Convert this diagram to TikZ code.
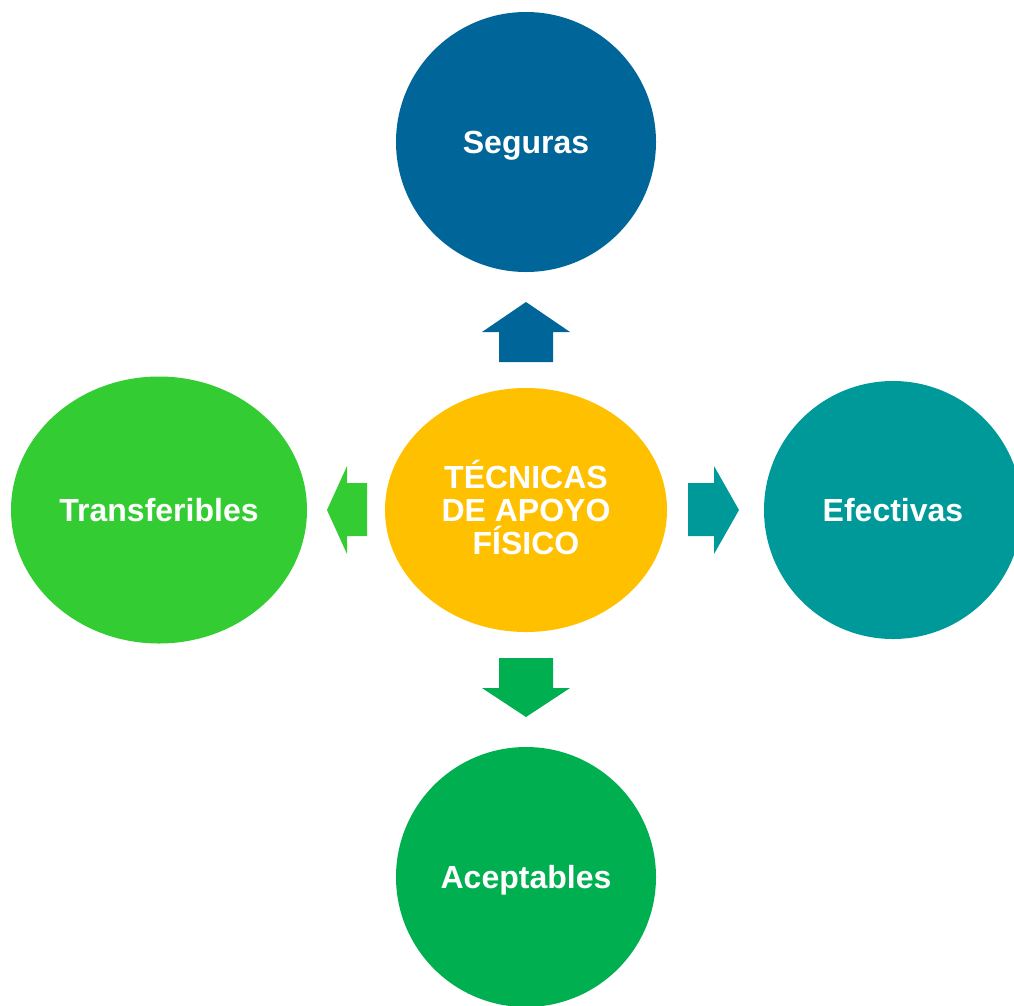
\documentclass[tikz,border=0pt]{standalone}
\usepackage{fontspec}
\setmainfont{Liberation Sans}
\usepackage{xcolor}
\usepackage{tikz}
\usetikzlibrary{shapes.geometric}

\definecolor{azul}{HTML}{006699}
\definecolor{amarillo}{HTML}{FFC000}
\definecolor{turquesa}{HTML}{009999}
\definecolor{verdeclaro}{HTML}{33CC33}
\definecolor{verde}{HTML}{00B050}

\tikzset{
  burbuja/.style={ellipse, inner sep=0pt, text=white,
    font=\fontsize{32}{33}\selectfont\bfseries, align=center},
  palabra/.style={burbuja, text depth=0pt}
}

\begin{document}
\begin{tikzpicture}[x=1pt,y=-1pt]
                \useasboundingbox (0,0) rectangle (1014,1005);
                \clip (0,0) rectangle (1014,1005);
                % central idea and its four qualities
                \node[burbuja, fill=amarillo, minimum width=282pt, minimum height=244pt]
                    (tecnicas) at (526,510) {};
                \node[burbuja] (titulo) at (526,507) {TÉCNICAS\\DE APOYO\\FÍSICO};
                \node[palabra, fill=azul, minimum width=260pt, minimum height=260pt]
                    (seguras) at (526,142) {Seguras};
                \node[palabra, fill=turquesa, minimum width=258pt, minimum height=258pt]
                    (efectivas) at (893,510) {Efectivas};
                \node[palabra, fill=verde, minimum width=260pt, minimum height=260pt]
                    (aceptables) at (526,877) {Aceptables};
                \node[palabra, fill=verdeclaro, minimum width=296pt, minimum height=267pt]
                    (transferibles) at (159,510) {Transferibles};
                % block arrows
                \fill[azul] (499,362) -- (499,332) -- (482,332) -- (526,302) --
                    (570,332) -- (553,332) -- (553,362) -- cycle;
                \fill[verde] (499,658) -- (499,688) -- (482,688) -- (526,717) --
                    (570,688) -- (553,688) -- (553,658) -- cycle;
                \fill[turquesa] (688,483) -- (714,483) -- (714,466) -- (739,510) --
                    (714,554) -- (714,536) -- (688,536) -- cycle;
                \fill[verdeclaro] (367,483) -- (347,483) -- (347,466) -- (327,510) --
                    (347,554) -- (347,536) -- (367,536) -- cycle;
            \end{tikzpicture}
\end{document}
